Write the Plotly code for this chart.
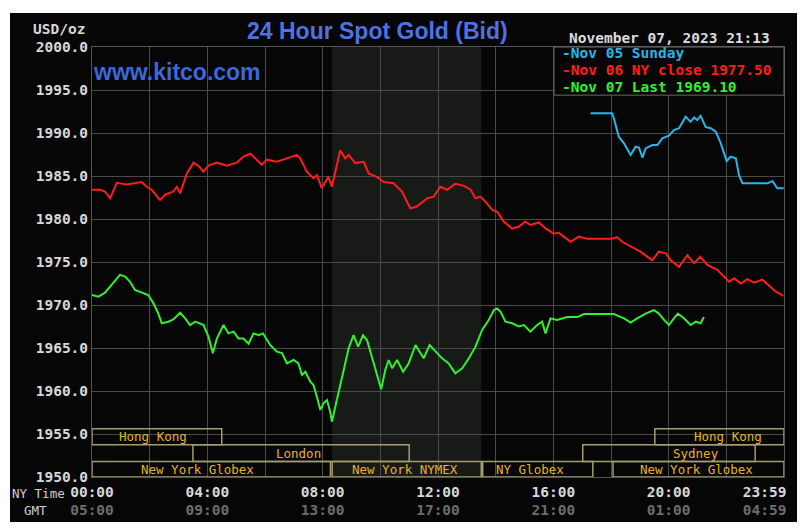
import plotly.graph_objects as go

# ---------------- data (hours after 00:00 NY time, USD/oz) ----------------
nov05_hours = [17.29, 18.04, 18.1, 18.19, 18.27, 18.45, 18.56, 18.68, 18.85, 18.97, 19.09, 19.2,
               19.43, 19.61, 19.78, 20.01, 20.18, 20.36, 20.59, 20.76, 20.88, 20.99, 21.11, 21.28,
               21.46, 21.63, 21.81, 22.01, 22.15, 22.33, 22.44, 22.56, 23.43, 23.6, 23.77, 23.99]
nov05_price = [1992.3, 1992.3, 1991.7, 1990.55, 1989.57, 1988.8, 1988.2, 1987.44, 1988.4, 1988.3,
               1987.13, 1988.2, 1988.6, 1988.6, 1989.38, 1989.7, 1990.35, 1990.55, 1991.9, 1991.3,
               1991.8, 1991.5, 1992.0, 1990.7, 1990.55, 1990.15, 1988.8, 1986.74, 1987.24, 1987.05,
               1985.1, 1984.15, 1984.15, 1984.4, 1983.57, 1983.57]

nov06_hours = [0, 0.28, 0.45, 0.63, 0.86, 1.2, 1.72, 1.9, 2.07, 2.36, 2.53, 2.82, 2.94, 3.06, 3.29,
               3.52, 3.69, 3.86, 4.04, 4.33, 4.68, 5.02, 5.25, 5.49, 5.66, 5.89, 6.06, 6.41, 6.76,
               7.1, 7.22, 7.45, 7.68, 7.8, 7.97, 8.2, 8.32, 8.61, 8.78, 8.9, 9.13, 9.42, 9.6, 9.88,
               10.12, 10.46, 10.75, 11.04, 11.27, 11.62, 11.85, 12.08, 12.32, 12.6, 12.9, 13.13,
               13.3, 13.47, 13.65, 13.88, 14.05, 14.28, 14.57, 14.8, 15.03, 15.2, 15.5, 15.73,
               16.02, 16.19, 16.36, 16.6, 16.88, 17.17, 18.04, 18.21, 18.39, 18.68, 19.02, 19.43,
               19.66, 19.9, 20.07, 20.36, 20.65, 20.88, 21.1, 21.34, 21.69, 21.86, 22.1, 22.27,
               22.5, 22.73, 22.96, 23.25, 23.48, 23.72, 23.98]
nov06_price = [1983.4, 1983.4, 1983.2, 1982.4, 1984.2, 1984.0, 1984.3, 1983.75, 1983.4, 1982.2,
               1982.8, 1983.2, 1983.75, 1983.0, 1985.3, 1986.55, 1986.2, 1985.5, 1986.2, 1986.55,
               1986.2, 1986.55, 1987.25, 1987.6, 1987.05, 1986.3, 1986.9, 1986.65, 1987.05, 1987.45,
               1987.05, 1985.5, 1984.75, 1985.1, 1983.6, 1984.9, 1983.75, 1988.0, 1987.05, 1987.45,
               1986.5, 1986.65, 1985.3, 1984.9, 1984.3, 1984.15, 1983.2, 1981.25, 1981.45, 1982.4,
               1982.6, 1983.75, 1983.4, 1984.1, 1983.85, 1983.4, 1982.4, 1982.6, 1982.0, 1981.05,
               1980.85, 1979.7, 1978.9, 1979.1, 1979.7, 1979.3, 1979.6, 1978.9, 1978.3, 1978.4,
               1977.95, 1977.35, 1977.95, 1977.7, 1977.7, 1977.9, 1977.35, 1976.8, 1976.2, 1975.2,
               1976.2, 1976.0, 1975.2, 1974.45, 1975.8, 1974.85, 1975.6, 1974.65, 1974.1, 1973.5,
               1972.7, 1973.1, 1972.5, 1973.0, 1972.6, 1972.95, 1972.3, 1971.55, 1971.05]

nov07_hours = [0, 0.22, 0.45, 0.68, 0.97, 1.15, 1.32, 1.49, 1.72, 1.95, 2.13, 2.3, 2.42, 2.65, 2.82,
               3.06, 3.23, 3.4, 3.58, 3.87, 4.04, 4.19, 4.33, 4.56, 4.73, 4.91, 5.08, 5.25, 5.43,
               5.6, 5.78, 5.93, 6.18, 6.41, 6.59, 6.76, 6.99, 7.16, 7.28, 7.4, 7.57, 7.68, 7.8,
               7.92, 8.03, 8.15, 8.26, 8.32, 8.44, 8.55, 8.73, 8.9, 9.07, 9.23, 9.4, 9.54, 9.71,
               9.88, 10.03, 10.17, 10.29, 10.41, 10.58, 10.79, 10.98, 11.22, 11.5, 11.71, 11.91,
               12.14, 12.37, 12.6, 12.84, 13.07, 13.3, 13.53, 13.76, 13.94, 14.05, 14.17, 14.34,
               14.57, 14.8, 14.98, 15.2, 15.44, 15.61, 15.73, 15.9, 16.13, 16.48, 16.83, 17.06,
               18.1, 18.45, 18.68, 18.91, 19.2, 19.49, 19.66, 19.84, 20.01, 20.18, 20.32, 20.53,
               20.76, 20.94, 21.11, 21.22]
nov07_price = [1971.16, 1970.97, 1971.43, 1972.3, 1973.5, 1973.3, 1972.7, 1971.74, 1971.43, 1971.16,
               1970.2, 1969.0, 1967.87, 1968.06, 1968.33, 1969.1, 1968.45, 1967.67, 1968.06, 1967.67,
               1966.3, 1964.4, 1966.1, 1967.67, 1966.7, 1966.9, 1966.1, 1966.1, 1965.5, 1966.7,
               1966.5, 1966.7, 1965.35, 1964.57, 1964.4, 1963.2, 1963.6, 1963.2, 1961.86, 1962.24,
               1961.08, 1960.7, 1959.34, 1957.8, 1958.57, 1958.95, 1957.6, 1956.43, 1958.2, 1959.73,
               1962.44, 1964.97, 1966.5, 1965.16, 1966.5, 1965.9, 1963.99, 1961.86, 1960.2, 1962.44,
               1963.6, 1962.64, 1963.6, 1962.24, 1963.2, 1965.35, 1963.8, 1965.35, 1964.57, 1963.8,
               1963.2, 1962.05, 1962.64, 1963.8, 1965.16, 1967.1, 1968.26, 1969.42, 1969.6, 1969.2,
               1968.06, 1967.87, 1967.5, 1967.67, 1966.9, 1967.67, 1968.06, 1966.7, 1968.45, 1968.26,
               1968.6, 1968.6, 1968.95, 1968.95, 1968.45, 1967.95, 1968.45, 1969.0, 1969.4, 1969.0,
               1968.26, 1967.67, 1968.45, 1969.0, 1968.45, 1967.67, 1968.06, 1967.87, 1968.6]

series_names = ["-Nov 05 Sunday", "-Nov 06 NY close 1977.50", "-Nov 07 Last 1969.10"]
series_colors = ["#2bb4e8", "#ff1c1c", "#30f030"]

# market sessions: name, start hour, end hour, row (0 = bottom), label position (hour)
market_names = ["Hong Kong", "London", "New York Globex", "New York NYMEX", "NY Globex",
                "Sydney", "Hong Kong", "New York Globex"]
market_start = [0, 3.5, 0, 8.33, 13.55, 17.02, 19.52, 18.07]
market_end = [4.5, 11.0, 8.27, 13.5, 17.37, 23.0, 24.0, 24.0]
market_row = [2, 1, 0, 0, 0, 1, 2, 0]
market_label_at = [2.12, 7.15, 3.65, 10.87, 15.2, 20.94, 22.05, 20.97]
nymex_session = (8.33, 13.5)

# axis labels
tick_hours = [0, 4, 8, 12, 16, 20, 23.33]
ny_time_labels = ["00:00", "04:00", "08:00", "12:00", "16:00", "20:00", "23:59"]
gmt_labels = ["05:00", "09:00", "13:00", "17:00", "21:00", "01:00", "04:59"]
price_ticks = [1950, 1955, 1960, 1965, 1970, 1975, 1980, 1985, 1990, 1995, 2000]

# ---------------- figure ----------------
MONO = "DejaVu Sans Mono"
fig = go.Figure()

all_series = [(nov05_hours, nov05_price), (nov06_hours, nov06_price), (nov07_hours, nov07_price)]
for i, (h, p) in enumerate(all_series):
    fig.add_trace(go.Scatter(x=h, y=p, mode="lines", name=series_names[i],
                             line=dict(color=series_colors[i], width=2),
                             xaxis="x2" if i == 0 else "x", showlegend=False))

shapes = []
# dark panel behind everything
shapes.append(dict(type="rect", xref="paper", yref="paper", x0=-0.1185, x1=1.0188,
                   y0=-0.1047, y1=1.079, fillcolor="#060606", line=dict(width=0), layer="below"))
# NYMEX shading
shapes.append(dict(type="rect", xref="x", yref="paper", x0=nymex_session[0], x1=nymex_session[1],
                   y0=0, y1=1, fillcolor="#181a17", line=dict(width=0), layer="below"))
# market boxes
row_bounds = [(1950.0, 1951.8), (1951.8, 1953.75), (1953.75, 1955.6)]
for s, e, r in zip(market_start, market_end, market_row):
    y0, y1 = row_bounds[r]
    shapes.append(dict(type="rect", xref="x", yref="y", x0=s, x1=e, y0=y0, y1=y1,
                       line=dict(color="#a39c6e", width=1.5), fillcolor="rgba(0,0,0,0)",
                       layer="above"))
# legend box
shapes.append(dict(type="rect", xref="paper", yref="paper", x0=0.6676, x1=1.0, y0=0.888, y1=1.0,
                   fillcolor="#060606", line=dict(color="#6a6a6a", width=1), layer="above"))

annotations = []
for name, at, r in zip(market_names, market_label_at, market_row):
    y0, y1 = row_bounds[r]
    annotations.append(dict(x=at, y=(y0 + y1) / 2, xref="x", yref="y", text=name,
                            showarrow=False, font=dict(family=MONO, size=12.5, color="#e6b422"),
                            xanchor="center", yanchor="middle"))
legend_y = [0.986, 0.947, 0.907]
for i in range(3):
    annotations.append(dict(x=0.676, y=legend_y[i], xref="paper", yref="paper",
                            text="<b>" + series_names[i] + "</b>", showarrow=False,
                            font=dict(family=MONO, size=14.5, color=series_colors[i]),
                            xanchor="left", yanchor="middle"))
annotations += [
    dict(x=0.4125, y=1.038, xref="paper", yref="paper", text="<b>24 Hour Spot Gold (Bid)</b>",
         showarrow=False, font=dict(family="Liberation Sans", size=23, color="#4e72e4"),
         xanchor="center", yanchor="middle"),
    dict(x=0.1225, y=0.942, xref="paper", yref="paper", text="<b>www.kitco.com</b>",
         showarrow=False, font=dict(family="Liberation Sans", size=23, color="#3c68dc"),
         xanchor="center", yanchor="middle"),
    dict(x=0.834, y=1.021, xref="paper", yref="paper", text="<b>November 07, 2023 21:13</b>",
         showarrow=False, font=dict(family=MONO, size=14.5, color="#dcdcdc"),
         xanchor="center", yanchor="middle"),
    dict(x=-0.0072, y=1.042, xref="paper", yref="paper", text="<b>USD/oz</b>",
         showarrow=False, font=dict(family=MONO, size=14.5, color="#d8d8d8"),
         xanchor="right", yanchor="middle"),
    dict(x=-0.036, y=-0.038, xref="paper", yref="paper", text="NY Time",
         showarrow=False, font=dict(family=MONO, size=12.5, color="#d0d0d0"),
         xanchor="right", yanchor="middle"),
    dict(x=-0.082, y=-0.079, xref="paper", yref="paper", text="GMT",
         showarrow=False, font=dict(family=MONO, size=12.5, color="#d0d0d0"),
         xanchor="center", yanchor="middle"),
]

ticktext = ["<b>%s</b><br><b><span style='color:#6c6c6c'>%s</span></b>" % (a, b)
            for a, b in zip(ny_time_labels, gmt_labels)]

fig.update_layout(
    width=805, height=528,
    margin=dict(l=92, r=21, t=47, b=51, autoexpand=False),
    paper_bgcolor="white", plot_bgcolor="rgba(0,0,0,0)",
    shapes=shapes, annotations=annotations, showlegend=False,
    xaxis=dict(range=[0, 24], dtick=2, tick0=0, showticklabels=False, showgrid=True,
               gridcolor="#4a4a4a", gridwidth=1, zeroline=False,
               showline=True, linecolor="#555555", mirror=True),
    xaxis2=dict(range=[0, 24], overlaying="x", matches="x", side="bottom", anchor="y",
                tickvals=tick_hours, ticktext=ticktext, showgrid=False, zeroline=False,
                showline=False, ticks="", ticklabelstandoff=4,
                tickfont=dict(family=MONO, size=14.5, color="#d8d8d8")),
    yaxis=dict(range=[1950, 2000], tickvals=price_ticks,
               ticktext=["<b>%.1f</b>" % v for v in price_ticks],
               showgrid=True, gridcolor="#4a4a4a", gridwidth=1, zeroline=False, ticks="",
               showline=True, linecolor="#555555", mirror=True,
               tickfont=dict(family=MONO, size=14.5, color="#d8d8d8")),
)

fig.write_html("out.html")
